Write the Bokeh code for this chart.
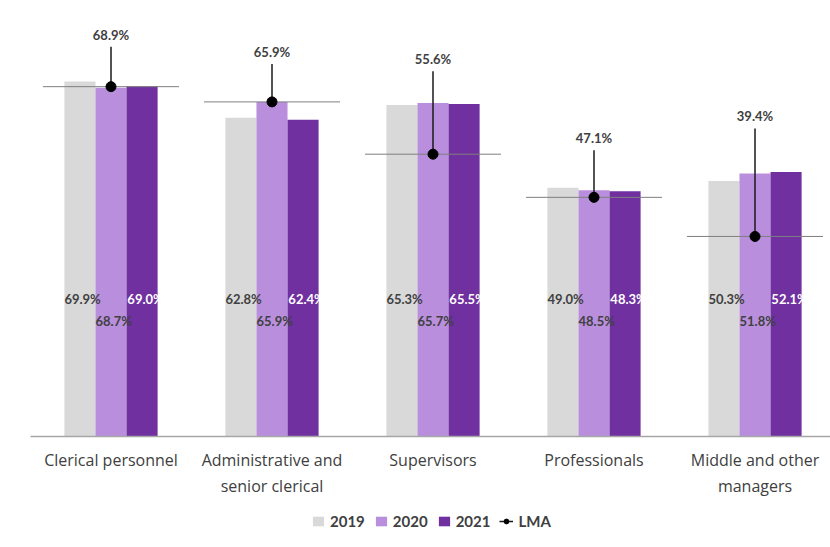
from bokeh.plotting import figure
from bokeh.layouts import column
from bokeh.models import (ColumnDataSource, Range1d, FixedTicker, Legend, LegendItem)
from bokeh.core.properties import value
from bokeh.embed import file_html
from bokeh.resources import INLINE

# ---- data ----
categories = ["Clerical personnel", "Administrative and\nsenior clerical", "Supervisors",
              "Professionals", "Middle and other\nmanagers"]
v2019 = [69.9, 62.8, 65.3, 49.0, 50.3]
v2020 = [68.7, 65.9, 65.7, 48.5, 51.8]
v2021 = [69.0, 62.4, 65.5, 48.3, 52.1]
lma = [68.9, 65.9, 55.6, 47.1, 39.4]
lma_labels = ["68.9%", "65.9%", "55.6%", "47.1%", "39.4%"]
series_names = ["2019", "2020", "2021", "LMA"]

# ---- layout / style ----
W, H = 830, 547
MAIN_H = 510
TOP, LEFT = 10, 30
FRAME_H = 426
BOTTOM = MAIN_H - TOP - FRAME_H
FRAME_W = W - LEFT
Y_END = 83.9
PX = FRAME_H / Y_END          # pixels per data unit
BW = 0.193                    # bar width (category units)
X_START = -0.5
X_END = X_START + FRAME_W / 161.0
label_lift_px = [52, 50, 95, 59, 120]   # LMA label placement above marker
TXT = "#404040"
C19, C20, C21 = "#D9D9D9", "#B98FDD", "#7030A0"
FONT = value("Lato")

xs = list(range(len(categories)))

p = figure(width=W, height=MAIN_H, output_backend="svg", toolbar_location=None,
           x_range=Range1d(X_START, X_END), y_range=Range1d(0, Y_END),
           y_axis_location=None, min_border_left=LEFT, min_border_right=0,
           min_border_top=TOP, min_border_bottom=BOTTOM)
p.outline_line_color = None
p.grid.visible = False
p.background_fill_color = "white"
p.border_fill_color = "white"

src = ColumnDataSource(dict(
    x=xs, v19=v2019, v20=v2020, v21=v2021,
    x19=[x - BW for x in xs], x20=xs, x21=[x + BW for x in xs],
    l19=[f"{v:.1f}%" for v in v2019], l20=[f"{v:.1f}%" for v in v2020],
    l21=[f"{v:.1f}%" for v in v2021],
    lx19=[x - 1.5 * BW for x in xs], lx20=[x - 0.5 * BW for x in xs],
    lx21=[x + 0.5 * BW + 0.005 for x in xs],
    lma=lma, lma_lab=lma_labels,
    lift=[-l for l in label_lift_px],
    ltop=[v + (l - 12) / PX for v, l in zip(lma, label_lift_px)],
    h0=[x - 0.4225 for x in xs], h1=[x + 0.4225 for x in xs],
))

p.vbar(x="x19", top="v19", width=BW, source=src, fill_color=C19, line_color=None)
p.vbar(x="x20", top="v20", width=BW, source=src, fill_color=C20, line_color=None)
p.vbar(x="x21", top="v21", width=BW, source=src, fill_color=C21, line_color=None)

# bar value labels
p.text(x="lx19", y=27.0, text="l19", source=src, text_font=FONT, text_font_style="bold",
       text_font_size="13px", text_color=TXT, text_align="left", text_baseline="middle")
p.text(x="lx20", y=22.8, text="l20", source=src, text_font=FONT, text_font_style="bold",
       text_font_size="13px", text_color=TXT, text_align="left", text_baseline="middle")
p.text(x="lx21", y=27.0, text="l21", source=src, text_font=FONT, text_font_style="bold",
       text_font_size="13px", text_color="white", text_align="left", text_baseline="middle")

# LMA
p.segment(x0="h0", y0="lma", x1="h1", y1="lma", source=src, line_color="#7F7F7F", line_width=1)
p.segment(x0="x", y0="lma", x1="x", y1="ltop", source=src, line_color="#1a1a1a", line_width=1.5)
p.scatter(x="x", y="lma", source=src, size=10, fill_color="black", line_color="black")
p.text(x="x", y="lma", y_offset="lift", text="lma_lab", source=src, text_font=FONT,
       text_font_style="bold", text_font_size="13px", text_color=TXT,
       text_align="center", text_baseline="middle")

# axis
ax = p.xaxis[0]
ax.ticker = FixedTicker(ticks=xs)
ax.major_label_overrides = {i: c for i, c in enumerate(categories)}
ax.major_tick_line_color = None
ax.minor_tick_line_color = None
ax.axis_line_color = "#A6A6A6"
ax.axis_line_width = 1.5
ax.major_label_text_font = "Open Sans"
ax.major_label_text_font_size = "16px"
ax.major_label_text_color = TXT
ax.major_label_standoff = 6

# ---- legend strip (separate small figure below) ----
LEG_H = H - MAIN_H
q = figure(width=W, height=LEG_H, output_backend="svg", toolbar_location=None,
           x_axis_location=None, y_axis_location=None, min_border=0,
           x_range=Range1d(0, 1), y_range=Range1d(0, 1))
q.outline_line_color = None
q.grid.visible = False
q.border_fill_color = "white"
# off-screen swatch renderers (clipped by the frame) so the legend has glyphs to draw
swatch = ColumnDataSource(dict(x=[-5], y=[-5], x1=[-4]))
g19 = q.vbar(x="x", top="y", width=0.1, source=swatch, fill_color=C19, line_color=None)
g20 = q.vbar(x="x", top="y", width=0.1, source=swatch, fill_color=C20, line_color=None)
g21 = q.vbar(x="x", top="y", width=0.1, source=swatch, fill_color=C21, line_color=None)
gl = q.segment(x0="x", y0="y", x1="x1", y1="y", source=swatch, line_color="#1a1a1a", line_width=1.5)
gd = q.scatter(x="x", y="y", source=swatch, size=7, fill_color="black", line_color="black")

legend = Legend(items=[
    LegendItem(label=series_names[0], renderers=[g19]),
    LegendItem(label=series_names[1], renderers=[g20]),
    LegendItem(label=series_names[2], renderers=[g21]),
    LegendItem(label=series_names[3], renderers=[gl, gd]),
], orientation="horizontal", location=(281, 17), border_line_color=None,
    label_text_font="Lato", label_text_font_style="bold", label_text_font_size="15px",
    label_text_color=TXT, glyph_width=14, glyph_height=12, spacing=9,
    label_standoff=5, margin=0, padding=0, background_fill_alpha=0)
q.add_layout(legend, "center")

layout = column(p, q, spacing=0)
open("out.html", "w").write(file_html(layout, INLINE))
